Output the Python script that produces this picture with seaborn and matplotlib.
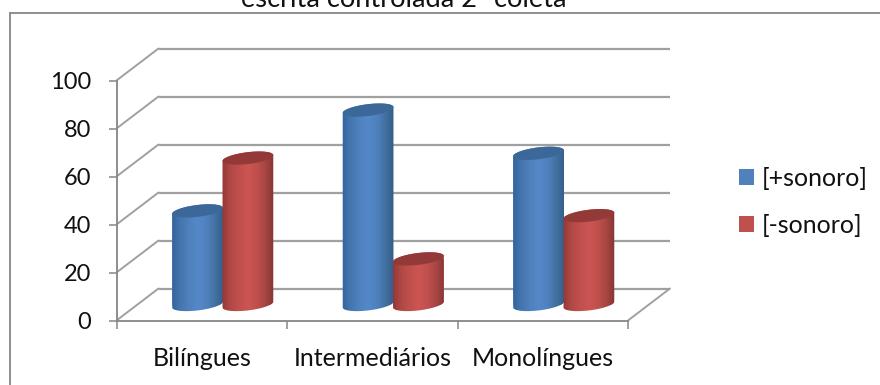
import numpy as np
import pandas as pd
import seaborn as sns
import matplotlib
matplotlib.use("Agg")
import matplotlib.pyplot as plt
from matplotlib.colors import LinearSegmentedColormap
from matplotlib.patches import Polygon
from matplotlib.lines import Line2D

categories = ["Bilíngues", "Intermediários", "Monolíngues"]
voiced = [39, 81, 63]
voiceless = [61, 19, 37]
series_names = ["[+sonoro]", "[-sonoro]"]
y_ticks = [0, 20, 40, 60, 80, 100]
title = "escrita controlada 2ª coleta"

W, H, DPI = 880, 385, 100
GRID = "#a0a0a0"
AXIS = "#868686"
TEXT = "#111111"
FONT = "Lato"
FS = 18

sns.set_theme(style="white")
plt.rcParams["font.family"] = [FONT, "DejaVu Sans"]

table = pd.DataFrame({
    "grupo": categories * 2,
    "valor": voiced + voiceless,
    "serie": [series_names[0]] * 3 + [series_names[1]] * 3,
})

fig = plt.figure(figsize=(W / DPI, H / DPI), dpi=DPI, facecolor="white")


def box(left, top, right, bottom):
    return [left / W, (H - bottom) / H, (right - left) / W, (bottom - top) / H]


# Front plane of the 3D frame carries the ticks and the labels
ax = fig.add_axes(box(116.5, 80.5, 628, 320.5))
ax.set_xlim(-0.5, 2.5)
ax.set_ylim(0, 100)
ax.patch.set_alpha(0)
px_x = 511.5 / 3
px_y = 240 / 100
depth_x = 42 / px_x
depth_y = 32 / px_y

for v in y_ticks:
    ax.plot([-0.5 + depth_x, 2.5 + depth_x], [v + depth_y] * 2, color=GRID, lw=1.6,
            clip_on=False, solid_capstyle="butt")
    ax.plot([-0.5, -0.5 + depth_x], [v, v + depth_y], color=GRID, lw=1.4, clip_on=False)
ax.plot([2.5, 2.5 + depth_x], [0, depth_y], color=GRID, lw=1.4, clip_on=False)

for side in ["top", "right"]:
    ax.spines[side].set_visible(False)
for side in ["left", "bottom"]:
    ax.spines[side].set_color(AXIS)
    ax.spines[side].set_linewidth(1.3)
ax.set_yticks(y_ticks)
ax.set_xticks([-0.5, 0.5, 1.5, 2.5])
ax.set_xticklabels([])
ax.tick_params(axis="both", length=6, width=1.1, color=AXIS, direction="out",
               left=True, bottom=True)
ax.tick_params(axis="y", labelsize=FS - 1, labelcolor=TEXT, pad=12.3)
for i, name in enumerate(categories):
    ax.text(i, -15.8, name, ha="center", va="center", fontsize=FS, color=TEXT)

# Bars stand halfway into the depth of the floor; their axes reach a little
# below zero so the rounded feet stay inside the image clip
FOOT = 10
bar_ax = fig.add_axes(box(116.5 + 21, 80.5 - 16, 628 + 21, 320.5 - 16 + FOOT * px_y), zorder=3)
sns.barplot(data=table, x="grupo", y="valor", hue="serie", order=categories,
            palette=["#4f81bd", "#c0504d"], width=0.59, gap=0, saturation=1,
            dodge=True, ax=bar_ax, edgecolor="none", linewidth=0)
bar_ax.axis("off")

shades = {
    0: (LinearSegmentedColormap.from_list(
        "azul", ["#31619a", "#4475ae", "#4f81bd", "#5588c8", "#4f81bd", "#41709f", "#325a88"]),
        "#3c6899"),
    1: (LinearSegmentedColormap.from_list(
        "verm", ["#8e3735", "#b04845", "#c0504d", "#cc5553", "#c0504d", "#a64542", "#813331"]),
        "#933a38"),
}


def tilted_ellipse(cx, cy, half_w, half_h, start, stop):
    """Points of a tilted ellipse, sized in pixels around a data-space centre."""
    t = np.linspace(start, stop, 80)
    tilt = np.radians(7)
    dx = half_w * np.cos(t) * np.cos(tilt) - half_h * np.sin(t) * np.sin(tilt)
    dy = half_w * np.cos(t) * np.sin(tilt) + half_h * np.sin(t) * np.cos(tilt)
    return np.column_stack([cx + dx / px_x, cy + dy / px_y])


bars = [p for p in bar_ax.patches if p.get_height() > 0]
gradient = np.linspace(0, 1, 256).reshape(1, -1)
for k, bar in enumerate(bars):
    series = k // 3
    cmap, cap_color = shades[series]
    x0, w, v = bar.get_x(), bar.get_width(), bar.get_height()
    cx = x0 + w / 2
    half_w = w * px_x / 2 + 0.4
    top = tilted_ellipse(cx, v, half_w, 5.9, 0, 2 * np.pi)
    bottom = tilted_ellipse(cx, 0, half_w, 5.9, np.pi, 2 * np.pi)
    body = Polygon(np.vstack([bottom, top[:40]]), closed=True,
                   transform=bar_ax.transData, facecolor="none", edgecolor="none")
    bar_ax.add_patch(body)
    bar.set_clip_path(body)
    z = 3 + k % 3 * 0.01 + series * 0.1
    img = bar_ax.imshow(gradient, cmap=cmap, aspect="auto", zorder=z,
                        extent=[x0 - 0.01, x0 + w + 0.01, -6, v + 6], interpolation="bilinear")
    img.set_clip_path(body)
    bar_ax.add_patch(Polygon(top, closed=True, facecolor=cap_color, edgecolor="none",
                             zorder=z + 0.001))
bar_ax.set_xlim(-0.5, 2.5)
bar_ax.set_ylim(-FOOT, 100)

handles = [bars[0], bars[3]]
old = bar_ax.get_legend()
if old is not None:
    old.remove()
fig.legend(handles, series_names, loc="center left",
           bbox_to_anchor=(739 / W, 1 - 202 / H), frameon=False, fontsize=FS,
           handlelength=0.6, handleheight=0.6, handletextpad=0.32, labelspacing=0.95,
           labelcolor=TEXT, borderpad=0, borderaxespad=0)

# Chart-area border: only the top and left edges fall inside the frame
fig.add_artist(Line2D([10 / W, 1], [1 - 13 / H] * 2, color=AXIS, lw=1.3))
fig.add_artist(Line2D([10 / W, 10 / W], [0, 1 - 13 / H], color=AXIS, lw=1.3))

fig.text(403.5 / W, 1 - 7 / H, title, ha="center", va="baseline", fontsize=19.6, color=TEXT)

fig.savefig("out.png", dpi=DPI, facecolor="white")
